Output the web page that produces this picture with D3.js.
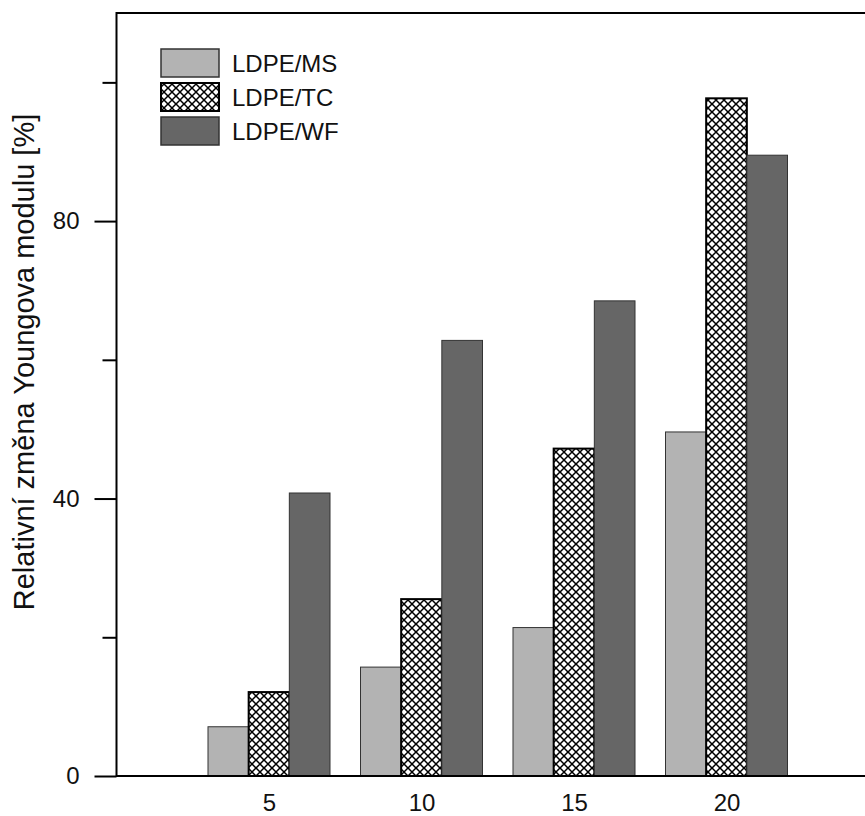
<!DOCTYPE html>
<html>
<head>
<meta charset="utf-8">
<script src="https://cdn.jsdelivr.net/npm/d3@7"></script>
<style>
  html, body { margin: 0; padding: 0; background: #fff; }
  svg { display: block; font-family: "Liberation Sans", Arial, sans-serif; }
</style>
</head>
<body>
<svg id="chart" width="865" height="816"></svg>
<script>
// ---- data ----
const categories = [5, 10, 15, 20];
const seriesNames = ["LDPE/MS", "LDPE/TC", "LDPE/WF"];
const valuesMS = [7.1, 15.7, 21.4, 49.6];
const valuesTC = [12.1, 25.5, 47.2, 97.7];
const valuesWF = [40.8, 62.8, 68.5, 89.5];
const yMajorTicks = [0, 40, 80];
const yMinorTicks = [20, 60, 100];
const yLabel = "Relativní změna Youngova modulu [%]";

const series = [
  { name: seriesNames[0], values: valuesMS, fill: "#b3b3b3", stroke: "#333", sw: 1 },
  { name: seriesNames[1], values: valuesTC, fill: "url(#hatch)", stroke: "#000", sw: 2 },
  { name: seriesNames[2], values: valuesWF, fill: "#666666", stroke: "#333", sw: 1 }
];

const svg = d3.select("#chart");
const mLeft = 116.5, mRight = 879, mTop = 13, mBottom = 776;

const x = d3.scaleLinear().domain([0, 25]).range([mLeft, mRight]);
const y = d3.scaleLinear().domain([0, 110]).range([mBottom, mTop]);
const barW = 4 / 3; // in x units

// pattern
const defs = svg.append("defs");
const pat = defs.append("pattern").attr("id", "hatch")
  .attr("patternUnits", "userSpaceOnUse").attr("width", 8).attr("height", 8);
pat.append("rect").attr("width", 8).attr("height", 8).attr("fill", "#fff");
pat.append("path").attr("d", "M-1,-1 L9,9 M-1,9 L9,-1")
  .attr("stroke", "#000").attr("stroke-width", 1.5).attr("fill", "none");

// bars
series.forEach((s, si) => {
  svg.append("g").selectAll("rect").data(categories).join("rect")
    .attr("x", (c) => x(c + (si - 1.5) * barW))
    .attr("width", (c) => x(c + (si - 0.5) * barW) - x(c + (si - 1.5) * barW))
    .attr("y", (c, i) => y(s.values[i]))
    .attr("height", (c, i) => y(0) - y(s.values[i]))
    .attr("fill", s.fill).attr("stroke", s.stroke).attr("stroke-width", s.sw);
});

// frame
svg.append("rect").attr("x", mLeft).attr("y", mTop)
  .attr("width", mRight - mLeft).attr("height", mBottom - mTop)
  .attr("fill", "none").attr("stroke", "#000").attr("stroke-width", 2);

// y axis ticks
const yAxisMajor = d3.axisLeft(y).tickValues(yMajorTicks).tickSize(22).tickPadding(15).tickFormat(d3.format("d"));
const gy = svg.append("g").attr("transform", `translate(${mLeft},0)`).call(yAxisMajor);
gy.select(".domain").remove();
gy.selectAll("line").attr("stroke", "#000").attr("stroke-width", 2);
gy.selectAll("text").attr("font-size", 24).attr("fill", "#111").attr("font-family", "Liberation Sans, Arial, sans-serif");

const yAxisMinor = d3.axisLeft(y).tickValues(yMinorTicks).tickSize(14).tickFormat("");
const gy2 = svg.append("g").attr("transform", `translate(${mLeft},0)`).call(yAxisMinor);
gy2.select(".domain").remove();
gy2.selectAll("line").attr("stroke", "#000").attr("stroke-width", 2);

// x axis labels
const xAxis = d3.axisBottom(x).tickValues(categories).tickSize(0).tickPadding(18).tickFormat(d3.format("d"));
const gx = svg.append("g").attr("transform", `translate(0,${mBottom})`).call(xAxis);
gx.select(".domain").remove();
gx.selectAll("text").attr("font-size", 24).attr("fill", "#111").attr("font-family", "Liberation Sans, Arial, sans-serif");

// y label
svg.append("text")
  .attr("transform", `translate(34,362) rotate(-90)`)
  .attr("text-anchor", "middle")
  .attr("font-size", 29).attr("fill", "#111")
  .text(yLabel);

// legend
const lg = svg.append("g");
series.forEach((s, i) => {
  const yy = 49 + i * 34;
  lg.append("rect").attr("x", 161).attr("y", yy).attr("width", 58).attr("height", 28)
    .attr("fill", s.fill).attr("stroke", s.stroke).attr("stroke-width", s.sw === 2 ? 2 : 1.5);
  lg.append("text").attr("x", 232).attr("y", yy + 23)
    .attr("font-size", 24).attr("fill", "#111").text(s.name);
});
</script>
</body>
</html>
